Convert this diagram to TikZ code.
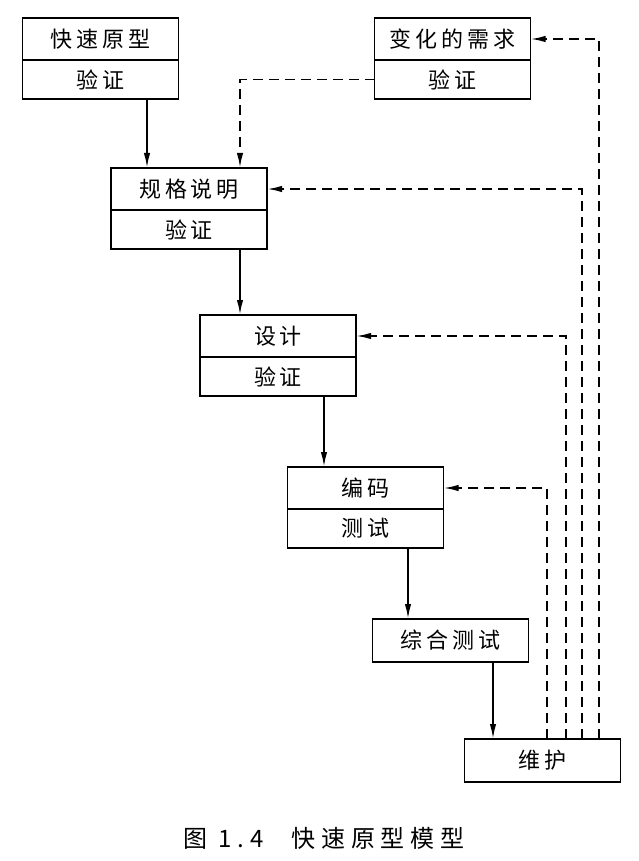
\documentclass[tikz,border=0pt]{standalone}
\usepackage{fontspec}
\newfontfamily\cjk[LetterSpace=18]{Noto Sans CJK SC}
\newfontfamily\cjkcap[LetterSpace=24]{Noto Sans CJK SC}
\usetikzlibrary{arrows.meta, positioning}

\tikzset{
  box/.style={draw, line width=0.8pt, outer sep=0pt, inner sep=0pt,
    minimum width=78pt, minimum height=21pt,
    font=\cjk\fontsize{11}{13}\selectfont},
  vbox/.style={box, minimum height=19.5pt},
  flow/.style={line width=0.9pt, -{Latex[length=7.5pt,width=3.2pt]}},
  back/.style={flow, dash pattern=on 5pt off 3pt},
}

\begin{document}
\begin{tikzpicture}[x=0.5pt, y=-0.5pt]
  \useasboundingbox (0,0) rectangle (638,861);

  % Lanes for the connectors
  \coordinate (l1) at (147,0);
  \coordinate (l2) at (240,0);
  \coordinate (l3) at (324,0);
  \coordinate (l4) at (408,0);
  \coordinate (l5) at (493,0);
  \coordinate (r1) at (547,0);
  \coordinate (r2) at (566,0);
  \coordinate (r3) at (582,0);
  \coordinate (r4) at (599,0);

  % Prototype and changed requirements
  \node[box, anchor=north] (proto) at (100.5,18) {快速原型};
  \node[vbox, below=0pt of proto] (protov) {验证};
  \node[box, anchor=north] (change) at (452.5,18) {变化的需求};
  \node[vbox, below=0pt of change] (changev) {验证};

  % Phases
  \node[box, anchor=north] (spec) at (189,168) {规格说明};
  \node[vbox, below=0pt of spec] (specv) {验证};
  \node[box, anchor=north] (design) at (278,315) {设计};
  \node[vbox, below=0pt of design] (designv) {验证};
  \node[box, anchor=north] (code) at (365.5,467) {编码};
  \node[vbox, below=0pt of code] (codev) {测试};
  \node[box, anchor=north, minimum height=21.5pt] (integ) at (450.5,619) {综合测试};
  \node[box, anchor=north, minimum height=21.5pt] (maint) at (542.5,739) {维护};

  % Forward flow
  \draw[flow] (protov.south -| l1) -- (spec.north -| l1);
  \draw[flow] (specv.south -| l2) -- (design.north -| l2);
  \draw[flow] (designv.south -| l3) -- (code.north -| l3);
  \draw[flow] (codev.south -| l4) -- (integ.north -| l4);
  \draw[flow] (integ.south -| l5) -- (maint.north -| l5);

  % Feedback (dashed)
  \draw[back] (changev.west) -| (spec.north -| l2);
  \draw[back] (maint.north -| r1) |- (code.east);
  \draw[back] (maint.north -| r2) |- (design.east);
  \draw[back] (maint.north -| r3) |- (spec.east);
  \draw[back] (maint.north -| r4) |- (change.east);

  % Caption
  \node[font=\cjkcap\fontsize{12}{14}\selectfont] (cap) at (324,838)
    {图 1.4\hspace{14pt}快速原型模型};
\end{tikzpicture}
\end{document}
